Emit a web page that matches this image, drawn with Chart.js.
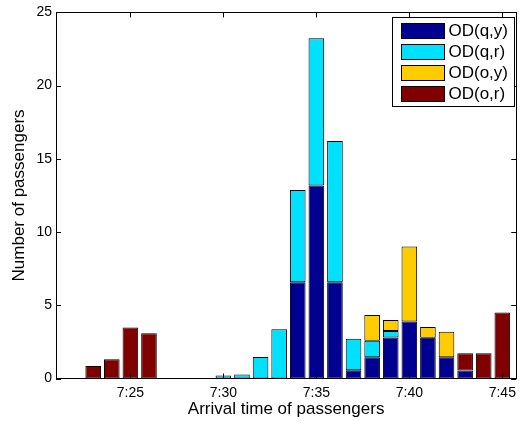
<!DOCTYPE html>
<html>
<head>
<meta charset="utf-8">
<script src="https://cdn.jsdelivr.net/npm/chart.js@4"></script>
<style>
  html, body { margin: 0; padding: 0; background: #fff; }
  #wrap { width: 522px; height: 425px; }
</style>
</head>
<body>
<div id="wrap"><canvas id="odChart" width="522" height="425"></canvas></div>
<script>
// ---- Data (minutes after 7:00) ----
const minutes = [21, 22, 23, 24, 25, 26, 27, 28, 29, 30, 31, 32, 33,
                 34, 35, 36, 37, 38, 39, 40, 41, 42, 43, 44, 45];

const odQY = [0, 0, 0, 0, 0, 0, 0, 0, 0, 0, 0, 0, 0,
              6.58, 13.18, 6.58, 0.57, 1.45, 2.8, 3.9, 2.78, 1.45, 0.55, 0, 0];
const odQR = [0, 0, 0, 0, 0, 0, 0, 0, 0, 0.2, 0.27, 1.47, 3.36,
              6.3, 10.06, 9.64, 2.14, 1.13, 0.45, 0, 0, 0, 0, 0, 0];
const odOY = [0, 0, 0, 0, 0, 0, 0, 0, 0, 0, 0, 0, 0,
              0, 0, 0, 0, 1.75, 0.75, 5.11, 0.74, 1.75, 0, 0, 0];
const odOR = [0, 0, 0.86, 1.31, 3.49, 3.09, 0, 0, 0, 0, 0, 0, 0,
              0, 0, 0, 0, 0, 0, 0, 0, 0, 1.17, 1.72, 4.51];

const seriesLabels = ["OD(q,y)", "OD(q,r)", "OD(o,y)", "OD(o,r)"];
const seriesColors = ["#000090", "#00E0FF", "#FFCC00", "#800000"];

const xTickValues = [25, 30, 35, 40, 45];
const xTickLabels = ["7:25", "7:30", "7:35", "7:40", "7:45"];
const yTickValues = [0, 5, 10, 15, 20, 25];

const FONT = "'Liberation Sans', Arial, Helvetica, sans-serif";

// ---- MATLAB-like frame, inward ticks and inset legend ----
const matlabFrame = {
  id: "matlabFrame",
  afterDatasetsDraw(chart) {
    const { ctx, chartArea: a, scales } = chart;
    const tl = 5;
    ctx.save();
    ctx.strokeStyle = "#000";
    ctx.lineWidth = 1;
    ctx.beginPath();
    xTickValues.forEach(v => {
      const px = Math.round(scales.x.getPixelForValue(v)) + 0.5;
      ctx.moveTo(px, a.bottom); ctx.lineTo(px, a.bottom - tl);
      ctx.moveTo(px, a.top); ctx.lineTo(px, a.top + tl);
    });
    yTickValues.forEach(v => {
      const py = Math.round(scales.y.getPixelForValue(v)) + 0.5;
      ctx.moveTo(a.left, py); ctx.lineTo(a.left + tl, py);
      ctx.moveTo(a.right, py); ctx.lineTo(a.right - tl, py);
    });
    ctx.stroke();
    ctx.strokeRect(Math.round(a.left) + 0.5, Math.round(a.top) + 0.5,
                   Math.round(a.right - a.left), Math.round(a.bottom - a.top));
    ctx.restore();
  },
  afterDraw(chart) {
    const { ctx, chartArea: a } = chart;
    const w = 122, h = 89;
    const left = Math.round(a.right - w - 2) + 0.5;
    const top = Math.round(a.top + 5) + 0.5;
    ctx.save();
    ctx.fillStyle = "#fff";
    ctx.fillRect(left, top, w, h);
    ctx.strokeStyle = "#000";
    ctx.lineWidth = 1;
    ctx.strokeRect(left, top, w, h);
    ctx.font = "17px " + FONT;
    ctx.textBaseline = "middle";
    chart.data.datasets.forEach((ds, i) => {
      const rowTop = top + 6 + i * 21;
      ctx.fillStyle = ds.backgroundColor;
      ctx.fillRect(left + 9, rowTop, 43, 15);
      ctx.strokeRect(left + 9, rowTop, 43, 15);
      ctx.fillStyle = "#000";
      ctx.fillText(ds.label, left + 56, rowTop + 8);
    });
    ctx.restore();
  }
};

const series = [odQY, odQR, odOY, odOR];

new Chart(document.getElementById("odChart").getContext("2d"), {
  type: "bar",
  data: {
    labels: minutes,
    datasets: series.map((vals, i) => ({
      label: seriesLabels[i],
      data: vals,
      backgroundColor: seriesColors[i],
      borderColor: "#000",
      borderWidth: 1,
      borderSkipped: false,
      categoryPercentage: 1,
      barPercentage: 0.84
    }))
  },
  options: {
    responsive: false,
    animation: false,
    devicePixelRatio: 1,
    layout: { padding: { top: 8, right: 2, left: 0, bottom: 0 } },
    plugins: {
      legend: { display: false },
      tooltip: { enabled: false }
    },
    scales: {
      x: {
        type: "linear",
        stacked: true,
        offset: false,
        min: 21,
        max: 45.75,
        afterBuildTicks: s => { s.ticks = xTickValues.map(v => ({ value: v })); },
        afterFit: s => { s.height = 46.5; },
        grid: { display: false, drawTicks: false, offset: false },
        border: { display: false },
        ticks: {
          color: "#000",
          padding: 6,
          maxRotation: 0,
          autoSkip: false,
          font: { family: FONT, size: 14 },
          callback: v => xTickLabels[xTickValues.indexOf(v)]
        },
        title: {
          display: true,
          text: "Arrival time of passengers",
          color: "#000",
          font: { family: FONT, size: 17 },
          padding: { top: 0, bottom: 5 }
        }
      },
      y: {
        stacked: true,
        min: 0,
        max: 25,
        afterBuildTicks: s => { s.ticks = yTickValues.map(v => ({ value: v })); },
        afterFit: s => { s.width = 56; },
        grid: { display: false, drawTicks: false },
        border: { display: false },
        ticks: {
          color: "#000",
          padding: 4,
          font: { family: FONT, size: 14 }
        },
        title: {
          display: true,
          text: "Number of passengers",
          color: "#000",
          font: { family: FONT, size: 17 },
          padding: { top: 9, bottom: 0 }
        }
      }
    }
  },
  plugins: [matlabFrame]
});
</script>
</body>
</html>
